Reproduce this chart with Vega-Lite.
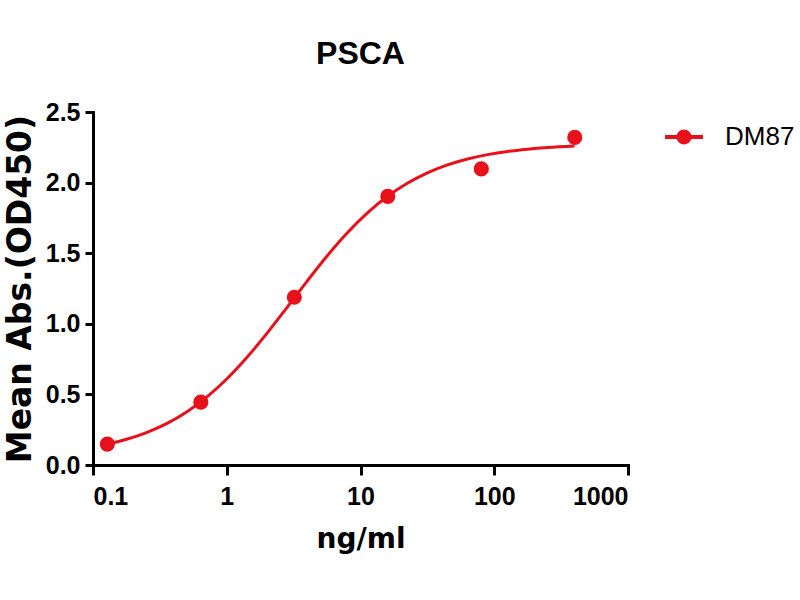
{
  "$schema": "https://vega.github.io/schema/vega-lite/v6.json",
  "autosize": {"type": "none"},
  "padding": {"left": 93, "top": 112, "right": 172, "bottom": 135},
  "width": 535,
  "height": 353,
  "background": "white",
  "title": {
    "text": "PSCA",
    "font": "Liberation Sans",
    "fontSize": 32,
    "fontWeight": "bold",
    "color": "black",
    "anchor": "middle",
    "offset": 29
  },
  "datasets": {
    "points": [
      {"conc": 0.128, "od": 0.148, "series": "DM87"},
      {"conc": 0.64, "od": 0.445, "series": "DM87"},
      {"conc": 3.2, "od": 1.188, "series": "DM87"},
      {"conc": 16, "od": 1.903, "series": "DM87"},
      {"conc": 80, "od": 2.097, "series": "DM87"},
      {"conc": 400, "od": 2.320, "series": "DM87"}
    ],
    "curve": [
      {"conc": 0.128, "od": 0.147},
      {"conc": 0.178, "od": 0.182},
      {"conc": 0.251, "od": 0.230},
      {"conc": 0.355, "od": 0.293},
      {"conc": 0.501, "od": 0.376},
      {"conc": 0.708, "od": 0.481},
      {"conc": 1.0, "od": 0.609},
      {"conc": 1.413, "od": 0.761},
      {"conc": 1.995, "od": 0.932},
      {"conc": 2.818, "od": 1.115},
      {"conc": 3.981, "od": 1.301},
      {"conc": 5.623, "od": 1.480},
      {"conc": 7.943, "od": 1.643},
      {"conc": 11.22, "od": 1.784},
      {"conc": 15.85, "od": 1.901},
      {"conc": 22.39, "od": 1.995},
      {"conc": 31.62, "od": 2.069},
      {"conc": 44.67, "od": 2.125},
      {"conc": 63.1, "od": 2.167},
      {"conc": 89.1, "od": 2.198},
      {"conc": 125.9, "od": 2.221},
      {"conc": 177.8, "od": 2.237},
      {"conc": 251.2, "od": 2.249},
      {"conc": 398, "od": 2.260}
    ]
  },
  "encoding": {
    "x": {
      "field": "conc",
      "type": "quantitative",
      "scale": {"type": "log", "domain": [0.1, 1000], "nice": false},
      "axis": {
        "title": "ng/ml",
        "values": [0.1, 1, 10, 100, 1000],
        "format": "~g",
        "tickSize": 10,
        "labelPadding": 9,
        "titleFont": "DejaVu Sans",
        "titleFontSize": 28,
        "titlePadding": 16
      }
    },
    "y": {
      "field": "od",
      "type": "quantitative",
      "scale": {"domain": [0, 2.5], "nice": false},
      "axis": {
        "title": "Mean Abs.(OD450)",
        "values": [0, 0.5, 1, 1.5, 2, 2.5],
        "format": ".1f",
        "tickSize": 8,
        "labelPadding": 5,
        "titleFont": "DejaVu Sans",
        "titleFontSize": 33,
        "titlePadding": 8
      }
    }
  },
  "layer": [
    {
      "data": {"name": "curve"},
      "mark": {"type": "line", "color": "#e8101a", "strokeWidth": 3, "interpolate": "monotone"}
    },
    {
      "data": {"name": "points"},
      "mark": {"type": "point", "filled": true, "opacity": 1, "size": 230},
      "encoding": {
        "color": {
          "field": "series",
          "type": "nominal",
          "scale": {"domain": ["DM87"], "range": ["#e8101a"]},
          "legend": {
            "title": null,
            "orient": "none",
            "legendX": 572,
            "legendY": 6,
            "padding": 0,
            "symbolType": "M-1,-0.1H1V0.1H-1ZM-0.39,0A0.39,0.39,0,1,1,0.39,0A0.39,0.39,0,1,1,-0.39,0Z",
            "symbolSize": 1444,
            "symbolStrokeWidth": 0,
            "labelFont": "Liberation Sans",
            "labelFontSize": 26,
            "labelFontWeight": "normal",
            "labelColor": "black",
            "labelOffset": 22,
            "labelLimit": 200,
            "encode": {
              "symbols": {
                "update": {
                  "shape": {"value": "M-1,-0.1H1V0.1H-1ZM-0.39,0A0.39,0.39,0,1,1,0.39,0A0.39,0.39,0,1,1,-0.39,0Z"},
                  "size": {"value": 1444},
                  "fill": {"value": "#e8101a"},
                  "opacity": {"value": 1}
                }
              }
            }
          }
        }
      }
    }
  ],
  "config": {
    "view": {"stroke": null},
    "axis": {
      "grid": false,
      "domainColor": "black",
      "domainWidth": 3,
      "domainCap": "square",
      "tickColor": "black",
      "tickWidth": 3,
      "labelFont": "Liberation Sans",
      "labelFontWeight": "bold",
      "labelFontSize": 25,
      "labelColor": "black",
      "titleColor": "black",
      "titleFontWeight": "bold"
    }
  }
}
